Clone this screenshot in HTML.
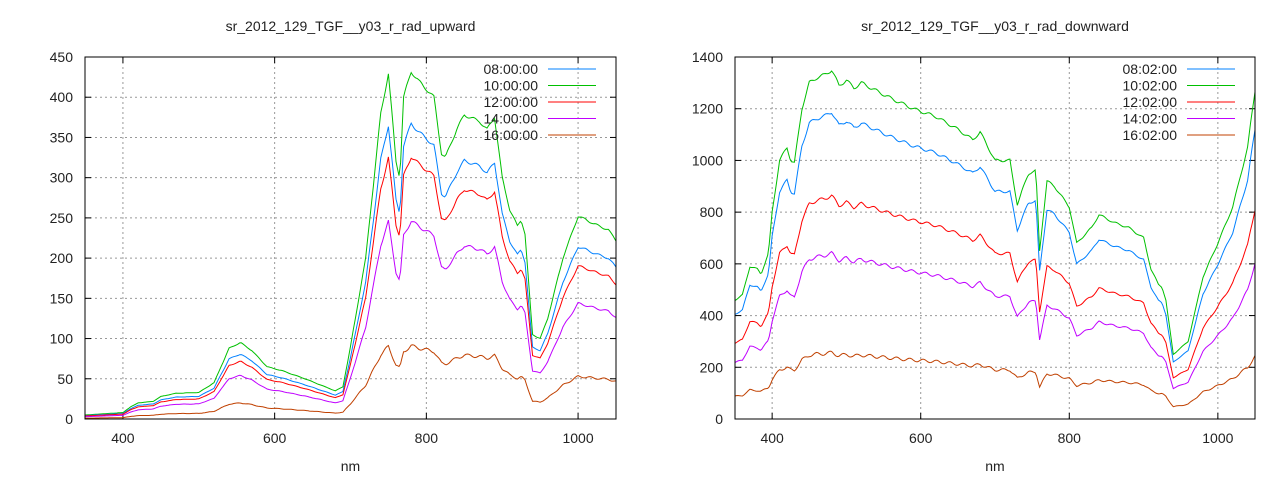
<!DOCTYPE html>
<html><head><meta charset="utf-8"><style>
body{margin:0;background:#fff;width:1280px;height:480px;overflow:hidden}
svg text{font-family:"Liberation Sans",sans-serif;fill:#222}
</style></head><body>
<svg id="s" width="1280" height="480" xmlns="http://www.w3.org/2000/svg"></svg>
<script>
const S=document.getElementById('s');let h='';
function plot(o){
 const X=v=>o.x0+(v-350)/700*(o.x1-o.x0), Y=v=>o.y1-v/o.ymax*(o.y1-o.y0);
 h+=`<text x="${(o.x0+o.x1)/2}" y="31" font-size="14" text-anchor="middle">${o.title}</text>`;
 for(const t of [400,600,800,1000]){const x=X(t);
  h+=`<line x1="${x}" y1="${o.y0}" x2="${x}" y2="${o.y1}" stroke="#999" stroke-dasharray="2,3"/>`;
  h+=`<line x1="${x}" y1="${o.y1}" x2="${x}" y2="${o.y1-6}" stroke="#000"/><line x1="${x}" y1="${o.y0}" x2="${x}" y2="${o.y0+6}" stroke="#000"/>`;
  h+=`<text x="${x}" y="${o.y1+24}" font-size="14" text-anchor="middle">${t}</text>`;}
 for(let t=0;t<=o.ymax;t+=o.ystep){const y=Y(t);
  if(t>0&&t<o.ymax)h+=`<line x1="${o.x0}" y1="${y}" x2="${o.x1}" y2="${y}" stroke="#999" stroke-dasharray="2,3"/>`;
  h+=`<line x1="${o.x0}" y1="${y}" x2="${o.x0+6}" y2="${y}" stroke="#000"/><line x1="${o.x1}" y1="${y}" x2="${o.x1-6}" y2="${y}" stroke="#000"/>`;
  h+=`<text x="${o.x0-12}" y="${y+5}" font-size="14" text-anchor="end">${t}</text>`;}
 h+=`<text x="${(o.x0+o.x1)/2}" y="471" font-size="14" text-anchor="middle">nm</text>`;
 const k=o.k;
 function val(w){for(let i=0;i<k.length-1;i++){if(w<=k[i+1][0]){const f=(w-k[i][0])/(k[i+1][0]-k[i][0]);return k[i][1]+(k[i+1][1]-k[i][1])*f;}}return k[k.length-1][1];}
 const order=[1,0,2,3,4];
 for(const si of order){const s=o.series[si];let p='';
  for(let w=350;w<=1050;w+=2){let v=val(w);v=v*s.r+Math.sin(w*0.35+si)*v*0.005;
   p+=(p?'L':'M')+X(w).toFixed(1)+','+Y(Math.max(0,v)).toFixed(1);}
  h+=`<path d="${p}" fill="none" stroke="${s.c}" stroke-width="1"/>`;}
 o.series.forEach((s,i)=>{const y=69+i*16.5;
  h+=`<text x="${o.x1-78}" y="${y+5}" font-size="14" text-anchor="end">${s.n}</text><line x1="${o.x1-68}" y1="${y}" x2="${o.x1-20}" y2="${y}" stroke="${s.c}"/>`;});
 h+=`<rect x="${o.x0}" y="${o.y0}" width="${o.x1-o.x0}" height="${o.y1-o.y0}" fill="none" stroke="#000"/>`;
}
const cols=['#0080ff','#00c000','#ff0000','#c000ff','#c04000'];
plot({x0:85,x1:616,y0:57,y1:419,ymax:450,ystep:50,title:'sr_2012_129_TGF__y03_r_rad_upward',
 series:[['08:00:00',.85],['10:00:00',1],['12:00:00',.755],['14:00:00',.57],['16:00:00',.21]].map((a,i)=>({n:a[0],r:a[1],c:cols[i]})),
 k:[[350,5],[400,8],[410,15],[420,20],[440,22],[450,28],[470,32],[500,33],[520,45],[540,88],[555,95],[570,85],[590,65],[610,60],[640,50],[680,35],[690,40],[700,90],[720,200],[740,380],[750,430],[760,320],[765,300],[770,400],[780,432],[790,420],[800,410],[810,400],[820,330],[825,325],[840,360],[850,378],[870,370],[880,360],[890,375],[900,300],[910,260],[920,240],[925,248],[930,230],[940,105],[950,100],[960,125],[980,200],[1000,252],[1010,248],[1020,243],[1040,235],[1050,222]]});
plot({x0:735,x1:1255,y0:57,y1:419,ymax:1400,ystep:200,title:'sr_2012_129_TGF__y03_r_rad_downward',
 series:[['08:02:00',.88],['10:02:00',1],['12:02:00',.64],['14:02:00',.475],['16:02:00',.19]].map((a,i)=>({n:a[0],r:a[1],c:cols[i]})),
 k:[[350,460],[360,480],[370,590],[380,580],[385,560],[395,640],[400,800],[410,1000],[420,1050],[425,1000],[430,990],[440,1200],[450,1300],[460,1320],[470,1330],[480,1350],[490,1290],[500,1310],[510,1280],[520,1300],[540,1270],[560,1240],[590,1200],[620,1170],[650,1120],[670,1080],[680,1110],[700,1000],[720,1000],[730,830],[745,950],[755,960],[760,650],[770,920],[780,900],[800,820],[810,680],[830,740],[840,790],[860,760],[880,740],[900,700],[910,580],[920,520],[925,510],[930,460],[940,250],[960,300],[980,550],[1000,680],[1020,820],[1040,1050],[1050,1270]]});
S.innerHTML=h;
</script>
</body></html>
